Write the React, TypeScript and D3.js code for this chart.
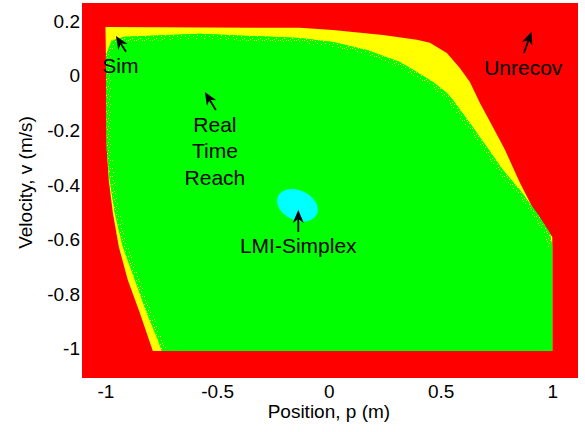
import { useRef, useEffect } from 'react';
import * as d3 from 'd3';

// tick values
const X_TICKS = [-1, -0.5, 0, 0.5, 1];
const Y_TICKS = [-1, -0.8, -0.6, -0.4, -0.2, 0, 0.2];

// outer edge of the region that the simulation recovers from (p, v)
const SIM_REGION: [number, number][] = [
  [-1.0, 0.179], [-0.13, 0.176], [0.018, 0.168], [0.242, 0.15], [0.394, 0.132],
  [0.452, 0.121], [0.528, 0.084], [0.586, 0.029], [0.631, -0.022], [0.676, -0.099],
  [0.734, -0.187], [0.788, -0.271], [0.855, -0.392], [0.922, -0.499], [1.0, -0.59],
  [1.0, -1.008], [-0.788, -1.008], [-0.846, -0.869], [-0.9, -0.748], [-0.94, -0.627],
  [-0.967, -0.502], [-0.985, -0.382], [-0.994, -0.271], [-0.998, 0.084],
];

// curved edge of the real-time reachability region, bottom left round to the right side (p, v)
const RTR_EDGE: [number, number][] = [
  [-0.748, -1.008], [-0.765, -0.968], [-0.815, -0.869], [-0.868, -0.748],
  [-0.922, -0.627], [-0.958, -0.502], [-0.981, -0.382], [-0.994, -0.271], [-0.998, 0.058],
  [-0.998, 0.075], [-0.972, 0.13], [-0.915, 0.143], [-0.577, 0.154], [-0.13, 0.139],
  [0.018, 0.124], [0.17, 0.095], [0.318, 0.051], [0.394, 0.014], [0.466, -0.022],
  [0.528, -0.063], [0.555, -0.088], [0.631, -0.173], [0.707, -0.261], [0.779, -0.345],
  [0.855, -0.418], [0.931, -0.502], [0.989, -0.576], [1.0, -0.627],
];
// straight corners that close it (right side and bottom)
const RTR_CORNERS: [number, number][] = [[1.0, -1.008]];

// LMI-Simplex ellipse: centre (p, v), semi axes (p units, v units), tilt in degrees
const LMI_CENTER = [-0.141, -0.474];
const LMI_AXES = [0.096, 0.055];
const LMI_TILT = 25;

// annotations: text lines, text anchor (p, v), arrow tail and tip (p, v)
const NOTES = [
  { lines: ['Sim'], at: [-0.933, 0.012], tail: [-0.908, 0.088], tip: [-0.953, 0.146] },
  { lines: ['Unrecov'], at: [0.87, 0.003], tail: [0.873, 0.084], tip: [0.907, 0.162] },
  { lines: ['Real', 'Time', 'Reach'], at: [-0.51, -0.204], tail: [-0.506, -0.125], tip: [-0.555, -0.059] },
  { lines: ['LMI-Simplex'], at: [-0.137, -0.649], tail: [-0.137, -0.572], tip: [-0.137, -0.491] },
];

const FONT = '"Liberation Sans", Arial, Helvetica, sans-serif';
const SPECKS = [[0, 0], [3, 1], [1, 4], [5, 3], [4, 6], [6, 0], [2, 7]];

const App = () => {
  const svgRef = useRef<SVGSVGElement>(null);

  useEffect(() => {
    const svg = d3.select(svgRef.current);
    svg.selectAll('*').remove();

    const box = { left: 82, right: 578, top: 3, bottom: 378 };

    const x = d3.scaleLinear().domain([-1.105, 1.115]).range([box.left, box.right]);
    const y = d3.scaleLinear().domain([-1.107, 0.267]).range([box.bottom, box.top]);

    const defs = svg.append('defs');
    const speck = defs.append('pattern')
      .attr('id', 'speck')
      .attr('patternUnits', 'userSpaceOnUse')
      .attr('width', 8)
      .attr('height', 8);
    speck.append('rect').attr('width', 8).attr('height', 8).attr('fill', '#00ff00');
    SPECKS.forEach(([i, j]) => {
      speck.append('rect').attr('x', i).attr('y', j).attr('width', 1).attr('height', 1).attr('fill', '#ffff00');
    });

    // unrecoverable background
    svg.append('rect')
      .attr('x', box.left)
      .attr('y', box.top)
      .attr('width', box.right - box.left)
      .attr('height', box.bottom - box.top)
      .attr('fill', '#ff0000');

    const closed = d3.line<[number, number]>()
      .x(d => x(d[0]))
      .y(d => y(d[1]))
      .curve(d3.curveLinearClosed);
    const open = d3.line<[number, number]>()
      .x(d => x(d[0]))
      .y(d => y(d[1]));

    svg.append('path').attr('d', closed(SIM_REGION)).attr('fill', '#ffff00');

    const rtr = [...RTR_EDGE, ...RTR_CORNERS];
    defs.append('clipPath').attr('id', 'rtr-clip').append('path').attr('d', closed(rtr));
    svg.append('path').attr('d', closed(rtr)).attr('fill', '#00ff00');
    // ragged fringe along the curved edge
    svg.append('path')
      .attr('d', open(RTR_EDGE))
      .attr('fill', 'none')
      .attr('stroke', 'url(#speck)')
      .attr('stroke-width', 10)
      .attr('clip-path', 'url(#rtr-clip)');

    const cx = x(LMI_CENTER[0]);
    const cy = y(LMI_CENTER[1]);
    svg.append('ellipse')
      .attr('cx', cx)
      .attr('cy', cy)
      .attr('rx', x(LMI_CENTER[0] + LMI_AXES[0]) - cx)
      .attr('ry', cy - y(LMI_CENTER[1] + LMI_AXES[1]))
      .attr('transform', `rotate(${LMI_TILT},${cx},${cy})`)
      .attr('fill', '#00ffff');

    // axes, no tick marks or lines
    const xAxis = svg.append('g')
      .attr('transform', `translate(0,${box.bottom})`)
      .call(d3.axisBottom(x).tickValues(X_TICKS).tickSize(0).tickPadding(6.5).tickFormat(d => String(d)));
    const yAxis = svg.append('g')
      .attr('transform', `translate(${box.left},0)`)
      .call(d3.axisLeft(y).tickValues(Y_TICKS).tickSize(0).tickPadding(2).tickFormat(d => String(d)));
    [xAxis, yAxis].forEach(g => {
      g.select('.domain').remove();
      g.attr('font-family', FONT).attr('font-size', 19);
      g.selectAll('text').attr('fill', '#000');
    });

    svg.append('text')
      .attr('x', x(0))
      .attr('y', 418)
      .attr('text-anchor', 'middle')
      .attr('font-family', FONT)
      .attr('font-size', 19)
      .text('Position, p (m)');

    svg.append('text')
      .attr('transform', `translate(32,${(box.top + box.bottom) / 2 - 8}) rotate(-90)`)
      .attr('text-anchor', 'middle')
      .attr('font-family', FONT)
      .attr('font-size', 19)
      .text('Velocity, v (m/s)');

    // annotations
    const notes = svg.append('g').attr('font-family', FONT).attr('font-size', 21);
    NOTES.forEach(n => {
      const t = notes.append('text')
        .attr('text-anchor', 'middle')
        .attr('x', x(n.at[0]))
        .attr('y', y(n.at[1]));
      n.lines.forEach((s, i) => {
        t.append('tspan').attr('x', x(n.at[0])).attr('dy', i === 0 ? 0 : 26.7).text(s);
      });

      const x1 = x(n.tail[0]), y1 = y(n.tail[1]);
      const x2 = x(n.tip[0]), y2 = y(n.tip[1]);
      const a = Math.atan2(y2 - y1, x2 - x1);
      const ux = Math.cos(a), uy = Math.sin(a);
      const L = 13, W = 5.5, B = 9;
      notes.append('line')
        .attr('x1', x1).attr('y1', y1)
        .attr('x2', x2 - ux * B).attr('y2', y2 - uy * B)
        .attr('stroke', '#000').attr('stroke-width', 1.8);
      notes.append('path')
        .attr('d', `M${x2},${y2}L${x2 - ux * L - uy * W},${y2 - uy * L + ux * W}L${x2 - ux * B},${y2 - uy * B}L${x2 - ux * L + uy * W},${y2 - uy * L - ux * W}Z`)
        .attr('fill', '#000');
    });
  }, []);

  return (
    <svg
      ref={svgRef}
      width="585"
      height="432"
      style={{ position: 'absolute', left: 0, top: 0, background: '#fff' }}
    />
  );
};

export default App;
